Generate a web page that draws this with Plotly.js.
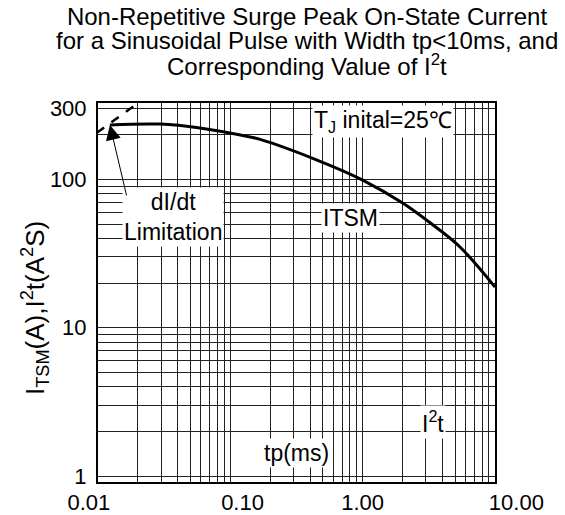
<!DOCTYPE html>
<html>
<head>
<meta charset="utf-8">
<script src="https://cdn.plot.ly/plotly-3.0.1.min.js"></script>
<style>html,body{margin:0;padding:0;background:#fff;}#chart{width:565px;height:515px;}</style>
</head>
<body>
<div id="chart"></div>
<script>
// ITSM curve (tp in ms, current in A)
const tp_ms = [0.0123, 0.0294, 0.059, 0.141, 0.168, 0.452, 1.0, 2.02, 3.23, 5.44, 10.0];
const itsm_A = [233, 236, 222, 193, 186, 135, 99, 69, 51, 35, 18.8];
// dI/dt limitation (dashed)
const limit_tp = [0.0098, 0.0200];
const limit_A = [206, 327];
// ticks
const NB = "\u00A0";
const xTickVals = [0.01, 0.1, 1, 10];
const xTickText = ["0.01" + NB + NB + NB, NB + NB + NB + NB + "0.10", "1.00", NB.repeat(7) + "10.00"];
const yTickVals = [1, 10, 100, 300];
const yTickText = ["1", "10", "100", "300"];
const titleLines = [
  "Non-Repetitive Surge Peak On-State Current",
  "for a Sinusoidal Pulse with Width tp<10ms, and",
  "Corresponding Value of I<sup>2</sup>t"
];

const FONT = "Arial, 'Liberation Sans', sans-serif";
const FS = 23;

const traces = [
  {x: tp_ms, y: itsm_A, mode: "lines", line: {color: "#000", width: 3, shape: "spline"}, hoverinfo: "skip"},
  {x: limit_tp, y: limit_A, mode: "lines", line: {color: "#000", width: 2.5, dash: "dash"}, hoverinfo: "skip"}
];

const gridC = "#222";
function txt(x, y, text, extra) {
  return Object.assign({xref: "paper", yref: "paper", x: x, y: y, text: text, showarrow: false,
    font: {family: FONT, size: FS, color: "#000"}, xanchor: "center", yanchor: "middle"}, extra || {});
}
const layout = {
  width: 565, height: 515,
  margin: {l: 98, r: 70, t: 103, b: 33},
  paper_bgcolor: "#fff", plot_bgcolor: "#fff",
  showlegend: false,
  font: {family: FONT, color: "#000"},
  title: {
    text: titleLines[0],
    font: {family: FONT, size: 24, color: "#000"},
    x: 307 / 565, xanchor: "center", xref: "container",
    y: 1 - 17 / 515, yanchor: "middle", yref: "container"
  },
  xaxis: {
    type: "log", range: [-2, 1],
    tickvals: xTickVals, ticktext: xTickText,
    tickfont: {family: FONT, size: 22, color: "#000"},
    showgrid: true, gridcolor: gridC, gridwidth: 1,
    minor: {dtick: "D1", showgrid: true, gridcolor: gridC, gridwidth: 1, ticks: ""},
    showline: true, linecolor: "#000", linewidth: 2, mirror: true,
    ticks: "", zeroline: false, automargin: false
  },
  yaxis: {
    type: "log", range: [-0.04, 2.515],
    tickvals: yTickVals, ticktext: yTickText,
    tickfont: {family: FONT, size: 22, color: "#000"},
    ticklabelstandoff: 5,
    showgrid: true, gridcolor: gridC, gridwidth: 1,
    minor: {dtick: "D1", showgrid: true, gridcolor: gridC, gridwidth: 1, ticks: ""},
    showline: true, linecolor: "#000", linewidth: 2, mirror: true,
    ticks: "", zeroline: false, automargin: false
  },
  annotations: [
    txt((307 - 98) / 397, (482 - 41) / 379, titleLines[1], {font: {family: FONT, size: 24, color: "#000"}}),
    txt((307 - 98) / 397, (482 - 65) / 379, titleLines[2], {font: {family: FONT, size: 24, color: "#000"}}),
    txt(-0.1587, 0.459, "I<sub>TSM</sub>(A),I<sup>2</sup>t(A<sup>2</sup>S)", {textangle: -90, font: {family: FONT, size: 26, color: "#000"}}),
    txt(0.718, 0.950, "T<sub>J</sub> inital=25℃", {bgcolor: "#fff", borderpad: 1}),
    txt(0.189, 0.699, "dI/dt<br>Limitation", {bgcolor: "#fff", borderpad: 1}),
    {xref: "x", yref: "y", x: Math.log10(tp_ms[0]), y: Math.log10(itsm_A[0]), text: "", showarrow: true,
     ax: 17, ay: 72, arrowhead: 2, arrowsize: 3, arrowwidth: 1, arrowcolor: "#000", standoff: 0},
    txt(0.635, 0.697, "ITSM", {bgcolor: "#fff", borderpad: 1}),
    txt(0.844, 0.158, "I<sup>2</sup>t", {bgcolor: "#fff", borderpad: 1}),
    txt(0.501, 0.077, "tp(ms)", {bgcolor: "#fff", borderpad: 1})
  ]
};

Plotly.newPlot("chart", traces, layout, {displayModeBar: false, staticPlot: true});
</script>
</body>
</html>
